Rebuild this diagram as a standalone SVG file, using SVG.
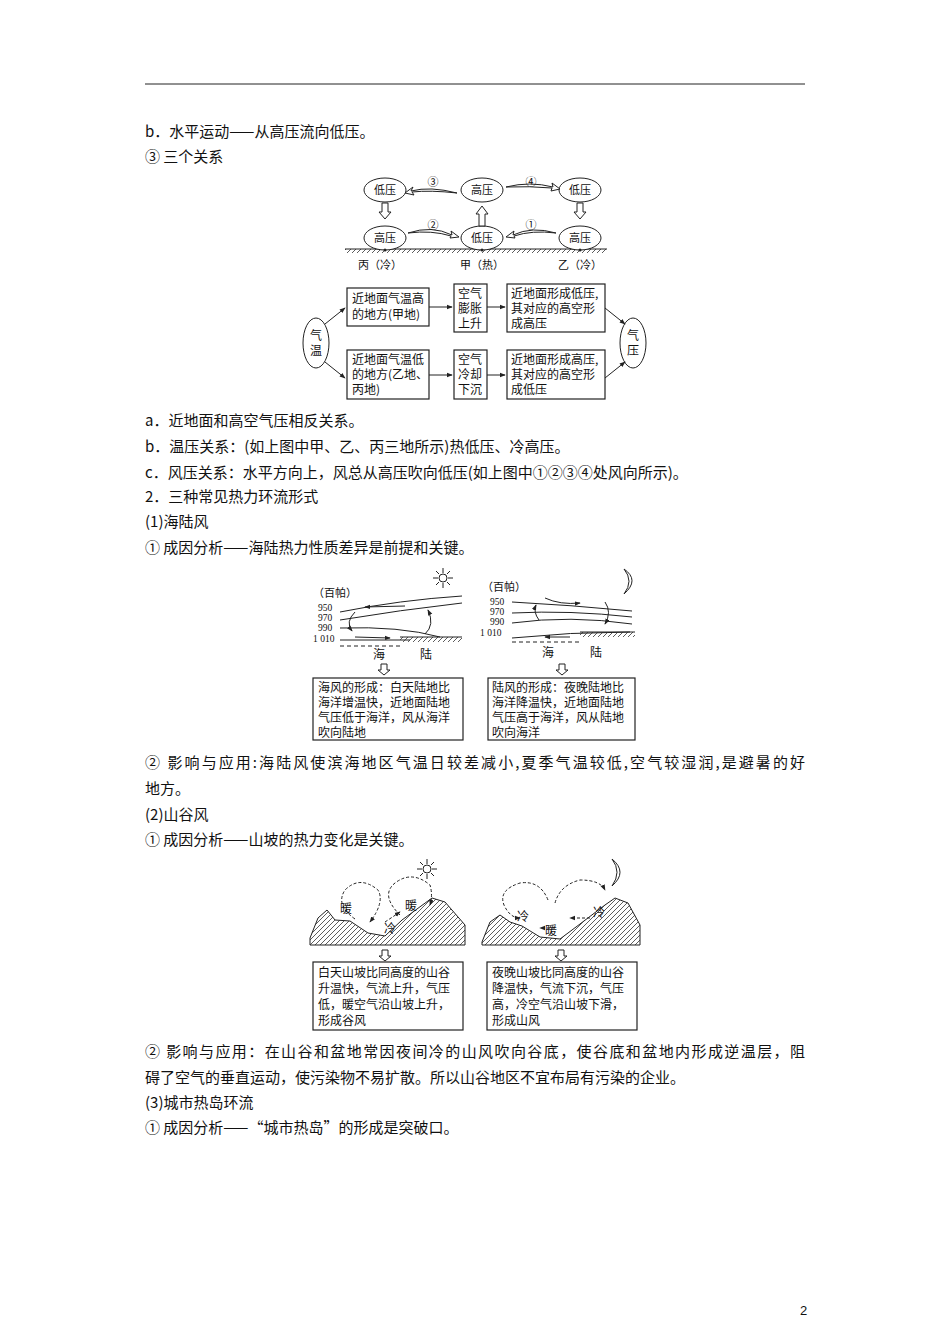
<svg xmlns="http://www.w3.org/2000/svg" width="950" height="1344" viewBox="0 0 950 1344">
<style>
text{font-family:"Noto Sans CJK SC","Liberation Serif",serif;fill:#111}
.b{font-size:15px}
.s{font-size:11px}
.m{font-size:12px}
.n{font-size:9.5px;font-family:"Liberation Serif",serif}
.ln{fill:none;stroke:#222;stroke-width:1}
.bx{fill:#fff;stroke:#222;stroke-width:1.2}
.el{fill:#fff;stroke:#222;stroke-width:1}
.ds{fill:none;stroke:#222;stroke-width:1;stroke-dasharray:3 2}
</style>
<defs>
<pattern id="h" width="5" height="5" patternUnits="userSpaceOnUse"><path d="M0 5L5 0" stroke="#333" stroke-width="0.8"/></pattern>
<marker id="a" viewBox="0 0 8 8" refX="7" refY="4" markerWidth="6" markerHeight="6" orient="auto"><path d="M0 1L8 4L0 7z" fill="#222"/></marker>
</defs>
<rect width="950" height="1344" fill="#fff"/>
<line x1="145" y1="84" x2="805" y2="84" stroke="#222" stroke-width="1"/>
<g class="b">
<text x="145" y="137">b．水平运动——从高压流向低压。</text>
<text x="145" y="162">③ 三个关系</text>
<text x="145" y="426">a．近地面和高空气压相反关系。</text>
<text x="145" y="452">b．温压关系：(如上图中甲、乙、丙三地所示)热低压、冷高压。</text>
<text x="145" y="478">c．风压关系：水平方向上，风总从高压吹向低压(如上图中①②③④处风向所示)。</text>
<text x="145" y="502">2．三种常见热力环流形式</text>
<text x="145" y="527">(1)海陆风</text>
<text x="145" y="553">① 成因分析——海陆热力性质差异是前提和关键。</text>
<text x="145" y="768" textLength="660" lengthAdjust="spacing">② 影响与应用:海陆风使滨海地区气温日较差减小,夏季气温较低,空气较湿润,是避暑的好</text>
<text x="145" y="794">地方。</text>
<text x="145" y="820">(2)山谷风</text>
<text x="145" y="845">① 成因分析——山坡的热力变化是关键。</text>
<text x="145" y="1057" textLength="660" lengthAdjust="spacing">② 影响与应用：在山谷和盆地常因夜间冷的山风吹向谷底，使谷底和盆地内形成逆温层，阻</text>
<text x="145" y="1083">碍了空气的垂直运动，使污染物不易扩散。所以山谷地区不宜布局有污染的企业。</text>
<text x="145" y="1108">(3)城市热岛环流</text>
<text x="145" y="1133">① 成因分析——“城市热岛”的形成是突破口。</text>
</g>
<text x="800" y="1315" style="font-family:'Liberation Sans',sans-serif;font-size:13px">2</text>

<g id="rel">
<rect x="345" y="249" width="262" height="4" fill="url(#h)"/>
<line x1="345" y1="249" x2="607" y2="249" stroke="#222"/>
<g id="n1"><ellipse class="el" cx="385" cy="190" rx="21" ry="12"/><text class="s" x="385" y="194" text-anchor="middle">低压</text></g>
<g id="n2"><ellipse class="el" cx="482" cy="190" rx="21" ry="12"/><text class="s" x="482" y="194" text-anchor="middle">高压</text></g>
<g id="n3"><ellipse class="el" cx="580" cy="190" rx="21" ry="12"/><text class="s" x="580" y="194" text-anchor="middle">低压</text></g>
<g id="n4"><ellipse class="el" cx="385" cy="238" rx="21" ry="12"/><text class="s" x="385" y="242" text-anchor="middle">高压</text></g>
<g id="n5"><ellipse class="el" cx="482" cy="238" rx="21" ry="12"/><text class="s" x="482" y="242" text-anchor="middle">低压</text></g>
<g id="n6"><ellipse class="el" cx="580" cy="238" rx="21" ry="12"/><text class="s" x="580" y="242" text-anchor="middle">高压</text></g>
<circle cx="385" cy="250" r="1.5" fill="#222"/><circle cx="482" cy="250" r="1.5" fill="#222"/><circle cx="580" cy="250" r="1.5" fill="#222"/>
<text class="s" x="380" y="269" text-anchor="middle">丙（冷）</text>
<text class="s" x="482" y="269" text-anchor="middle">甲（热）</text>
<text class="s" x="580" y="269" text-anchor="middle">乙（冷）</text>
<g id="conn1">
<path d="M382 203h6v9h3l-6 7-6-7h3z" fill="#fff" stroke="#222"/>
<path d="M577 203h6v9h3l-6 7-6-7h3z" fill="#fff" stroke="#222"/>
<path d="M479 226h6v-12h3l-6-8-6 8h3z" fill="#fff" stroke="#222"/>
<path d="M457 193Q430 186 411 191l2-4-8 6 9 2-2-3Q430 190 457 193z" fill="#fff" stroke="#222"/>
<path d="M506 187Q530 181 553 187l-1-4 8 6-9 2 1-3Q530 186 506 187z" fill="#fff" stroke="#222"/>
<path d="M408 233Q432 225 452 235l-1-4 8 6-9 1 1-2Q432 230 408 233z" fill="#fff" stroke="#222"/>
<path d="M556 233Q532 226 513 235l1-4-8 6 9 1-1-2Q532 230 556 233z" fill="#fff" stroke="#222"/>
</g>
<text class="s" x="433" y="186" text-anchor="middle">③</text>
<text class="s" x="531" y="186" text-anchor="middle">④</text>
<text class="s" x="433" y="229" text-anchor="middle">②</text>
<text class="s" x="531" y="229" text-anchor="middle">①</text>
</g>

<g id="fc">
<g id="qw"><ellipse class="el" cx="316" cy="343" rx="13" ry="25"/><text class="m" x="316" y="340" text-anchor="middle">气</text><text class="m" x="316" y="355" text-anchor="middle">温</text></g>
<g id="qy"><ellipse class="el" cx="633" cy="343" rx="13" ry="25"/><text class="m" x="633" y="340" text-anchor="middle">气</text><text class="m" x="633" y="355" text-anchor="middle">压</text></g>
<g id="b1"><rect class="bx" x="347" y="288" width="82" height="38"/><text class="m" x="352" y="303">近地面气温高</text><text class="m" x="352" y="319">的地方(甲地)</text></g>
<g id="b2"><rect class="bx" x="454" y="284" width="33" height="48"/><text class="m" x="458" y="298">空气</text><text class="m" x="458" y="313">膨胀</text><text class="m" x="458" y="328">上升</text></g>
<g id="b3"><rect class="bx" x="507" y="284" width="98" height="48"/><text class="m" x="511" y="298">近地面形成低压,</text><text class="m" x="511" y="313">其对应的高空形</text><text class="m" x="511" y="328">成高压</text></g>
<g id="b4"><rect class="bx" x="347" y="350" width="82" height="49"/><text class="m" x="352" y="364">近地面气温低</text><text class="m" x="352" y="379">的地方(乙地、</text><text class="m" x="352" y="394">丙地)</text></g>
<g id="b5"><rect class="bx" x="454" y="350" width="33" height="49"/><text class="m" x="458" y="364">空气</text><text class="m" x="458" y="379">冷却</text><text class="m" x="458" y="394">下沉</text></g>
<g id="b6"><rect class="bx" x="507" y="350" width="98" height="49"/><text class="m" x="511" y="364">近地面形成高压,</text><text class="m" x="511" y="379">其对应的高空形</text><text class="m" x="511" y="394">成低压</text></g>
<g id="fconn" class="ln">
<line x1="325" y1="324" x2="345" y2="308" marker-end="url(#a)"/>
<line x1="325" y1="362" x2="345" y2="378" marker-end="url(#a)"/>
<line x1="429" y1="307" x2="452" y2="307" marker-end="url(#a)"/>
<line x1="487" y1="307" x2="505" y2="307" marker-end="url(#a)"/>
<line x1="429" y1="375" x2="452" y2="375" marker-end="url(#a)"/>
<line x1="487" y1="375" x2="505" y2="375" marker-end="url(#a)"/>
<line x1="605" y1="308" x2="625" y2="324" marker-end="url(#a)"/>
<line x1="605" y1="378" x2="625" y2="362" marker-end="url(#a)"/>
</g>
</g>

<g id="sea1">
<g stroke="#222" stroke-width="1"><circle cx="443" cy="578" r="4" fill="none"/>
<path d="M443 568v5M443 583v5M433 578h5M448 578h5M436 571l3 3M447 582l3 3M450 571l-3 3M436 585l3-3"/></g>
<text class="s" x="313" y="597">（百帕）</text>
<text class="n" x="318" y="611">950</text><text class="n" x="318" y="621">970</text><text class="n" x="318" y="631">990</text><text class="n" x="313" y="642">1 010</text>
<g class="ln"><path d="M340 612Q400 600 462 596"/><path d="M340 620Q400 610 462 603"/><path d="M340 628Q400 626 440 637"/><path d="M340 640h70"/>
<path d="M405 606L365 607" marker-end="url(#a)"/>
<path d="M355 612Q345 622 352 631" marker-end="url(#a)"/>
<path d="M425 634Q435 625 428 610" marker-end="url(#a)"/>
<path d="M355 637L390 638" marker-end="url(#a)"/>
<path d="M340 646h60" stroke-dasharray="4 3"/></g>
<rect x="400" y="637" width="62" height="5" fill="url(#h)"/><line x1="400" y1="637" x2="462" y2="637" stroke="#222"/>
<text class="m" x="373" y="659">海</text><text class="m" x="420" y="659">陆</text>
<path d="M381 664h6v6h3l-6 5-6-5h3z" fill="#fff" stroke="#222"/>
<g id="sb1"><rect class="bx" x="313" y="678" width="150" height="62"/>
<text class="m" x="318" y="692">海风的形成：白天陆地比</text><text class="m" x="318" y="707">海洋增温快，近地面陆地</text><text class="m" x="318" y="722">气压低于海洋，风从海洋</text><text class="m" x="318" y="737">吹向陆地</text></g>
</g>
<g id="sea2">
<path d="M624 569Q640 580 624 594Q634 581 624 569z" fill="#fff" stroke="#222"/>
<text class="s" x="482" y="591">（百帕）</text>
<text class="n" x="490" y="605">950</text><text class="n" x="490" y="615">970</text><text class="n" x="490" y="625">990</text><text class="n" x="480" y="636">1 010</text>
<g class="ln"><path d="M512 602Q570 605 632 611"/><path d="M512 613Q570 610 632 617"/><path d="M512 623Q570 615 632 624"/><path d="M512 638Q570 632 630 632"/>
<path d="M545 598Q560 605 580 603" marker-end="url(#a)"/>
<path d="M539 620Q533 612 536 605" marker-end="url(#a)"/>
<path d="M605 602Q612 612 605 624" marker-end="url(#a)"/>
<path d="M570 637L545 637" marker-end="url(#a)"/>
<path d="M512 642h70" stroke-dasharray="4 3"/></g>
<rect x="580" y="632" width="55" height="5" fill="url(#h)"/><line x1="580" y1="632" x2="635" y2="632" stroke="#222"/>
<text class="m" x="542" y="657">海</text><text class="m" x="590" y="657">陆</text>
<path d="M559 664h6v6h3l-6 5-6-5h3z" fill="#fff" stroke="#222"/>
<g id="sb2"><rect class="bx" x="488" y="678" width="147" height="62"/>
<text class="m" x="492" y="692">陆风的形成：夜晚陆地比</text><text class="m" x="492" y="707">海洋降温快，近地面陆地</text><text class="m" x="492" y="722">气压高于海洋，风从陆地</text><text class="m" x="492" y="737">吹向海洋</text></g>
</g>

<g id="mt1">
<path d="M310 938L318 918L327 910L335 920L350 921L368 933L385 936L402 920L432 898L445 902L465 925L465 945L310 945z" fill="url(#h)" stroke="#222"/>
<g stroke="#222"><circle cx="427" cy="869" r="4" fill="none"/><path d="M427 859v5M427 874v5M417 869h5M432 869h5M420 862l3 3M431 873l3 3M434 862l-3 3M420 876l3-3"/></g>
<g class="ds"><path d="M355 919Q335 905 345 890Q360 875 378 890Q385 902 370 922" marker-end="url(#a)"/>
<path d="M400 915Q380 895 395 883Q412 870 430 885Q433 895 430 905" marker-end="url(#a)"/>
<path d="M385 922L400 912" marker-end="url(#a)"/></g>
<text class="m" x="340" y="913">暖</text><text class="m" x="405" y="910">暖</text><text class="m" x="384" y="933">冷</text>
<path d="M382 950h6v6h3l-6 5-6-5h3z" fill="#fff" stroke="#222"/>
<g id="mb1"><rect class="bx" x="313" y="962" width="150" height="68"/>
<text class="m" x="318" y="977">白天山坡比同高度的山谷</text><text class="m" x="318" y="993">升温快，气流上升，气压</text><text class="m" x="318" y="1009">低，暖空气沿山坡上升，</text><text class="m" x="318" y="1025">形成谷风</text></g>
</g>
<g id="mt2">
<path d="M482 942L490 922L500 915L510 922L522 926L540 937L560 939L580 924L605 905L615 898L628 903L640 925L640 945L482 945z" fill="url(#h)" stroke="#222"/>
<path d="M612 859Q628 872 612 886Q622 872 612 859z" fill="#fff" stroke="#222"/>
<g class="ds"><path d="M548 900Q540 880 520 883Q498 890 504 905Q510 918 520 918" marker-end="url(#a)"/>
<path d="M555 903Q560 885 580 880Q600 880 605 890" marker-end="url(#a)"/>
<path d="M590 918L570 918" marker-end="url(#a)"/><path d="M555 928L540 928" marker-end="url(#a)"/></g>
<text class="m" x="517" y="921">冷</text><text class="m" x="593" y="917">冷</text><text class="m" x="545" y="935">暖</text>
<path d="M558 950h6v6h3l-6 5-6-5h3z" fill="#fff" stroke="#222"/>
<g id="mb2"><rect class="bx" x="487" y="962" width="150" height="68"/>
<text class="m" x="492" y="977">夜晚山坡比同高度的山谷</text><text class="m" x="492" y="993">降温快，气流下沉，气压</text><text class="m" x="492" y="1009">高，冷空气沿山坡下滑，</text><text class="m" x="492" y="1025">形成山风</text></g>
</g>
</svg>
